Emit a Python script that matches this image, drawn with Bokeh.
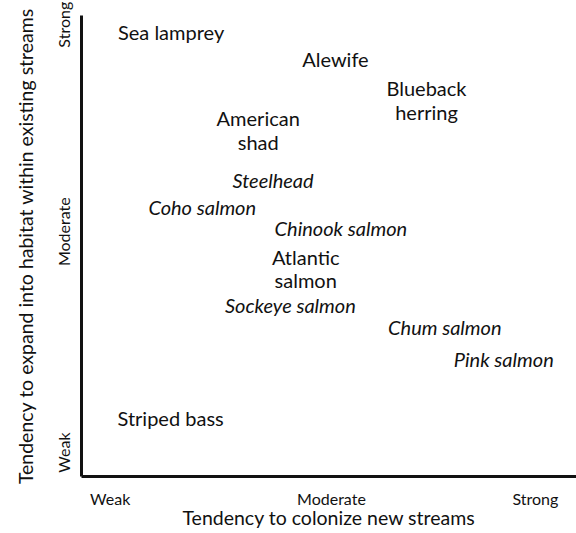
from bokeh.plotting import figure
from bokeh.models import ColumnDataSource, FixedTicker, Range1d
from bokeh.embed import file_html
from bokeh.resources import INLINE
from bokeh.core.properties import value

# ---- data (scores on a 0-10 scale) ----
species = ["Sea lamprey", "Alewife", "Blueback\nherring", "American\nshad",
           "Steelhead", "Coho salmon", "Chinook salmon", "Atlantic\nsalmon",
           "Sockeye salmon", "Chum salmon", "Pink salmon", "Striped bass"]
colonize = [1.81, 5.13, 6.97, 3.57, 3.87, 2.44, 5.24, 4.53, 4.22, 7.34, 8.53, 1.80]
expand = [9.65, 9.05, 8.17, 7.52, 6.44, 5.84, 5.38, 4.51, 3.71, 3.25, 2.54, 1.26]
is_pacific = [False, False, False, False, True, True, True, False, True, True, True, False]

tick_labels = ["Weak", "Moderate", "Strong"]
x_tick_values = [0.58, 5.05, 9.17]
y_tick_values = [0.52, 5.31, 9.80]

FONT = "Lato"
INK = "#111111"

src = ColumnDataSource(dict(
    x=colonize, y=expand, name=species,
    fstyle=["italic" if s else "normal" for s in is_pacific],
))

p = figure(width=576, height=533, output_backend="svg", toolbar_location=None,
           x_range=Range1d(0, 10), y_range=Range1d(0, 10),
           min_border_left=81, min_border_right=0, min_border_top=15,
           min_border_bottom=57)
p.outline_line_color = None
p.xgrid.visible = False
p.ygrid.visible = False
p.background_fill_color = "white"
p.border_fill_color = "white"

p.text(x="x", y="y", text="name", source=src, text_align="center",
       text_baseline="middle", text_font=value(FONT), text_font_size="20px",
       text_font_style="fstyle", text_color=INK, text_line_height=0.98)

p.xaxis.ticker = FixedTicker(ticks=x_tick_values)
p.yaxis.ticker = FixedTicker(ticks=y_tick_values)
p.xaxis.major_label_overrides = {v: t for v, t in zip(x_tick_values, tick_labels)}
p.yaxis.major_label_overrides = {v: t for v, t in zip(y_tick_values, tick_labels)}
p.yaxis.major_label_orientation = "vertical"

for ax in (p.xaxis[0], p.yaxis[0]):
    ax.axis_line_width = 3
    ax.axis_line_color = INK
    ax.major_tick_line_color = None
    ax.minor_tick_line_color = None
    ax.major_tick_out = 0
    ax.major_tick_in = 0
    ax.minor_tick_out = 0
    ax.minor_tick_in = 0
    ax.major_label_text_font = FONT
    ax.major_label_text_font_size = "16px"
    ax.major_label_text_color = INK
    ax.axis_label_text_font = FONT
    ax.axis_label_text_font_size = "19.5px"
    ax.axis_label_text_font_style = "normal"
    ax.axis_label_text_color = INK

p.xaxis.axis_label = "Tendency to colonize new streams"
p.yaxis.axis_label = "Tendency to expand into habitat within existing streams"
p.xaxis.major_label_standoff = 12
p.xaxis.axis_label_standoff = -5
p.yaxis.major_label_standoff = 8
p.yaxis.axis_label_standoff = 15

open("out.html", "w").write(file_html(p, INLINE))
